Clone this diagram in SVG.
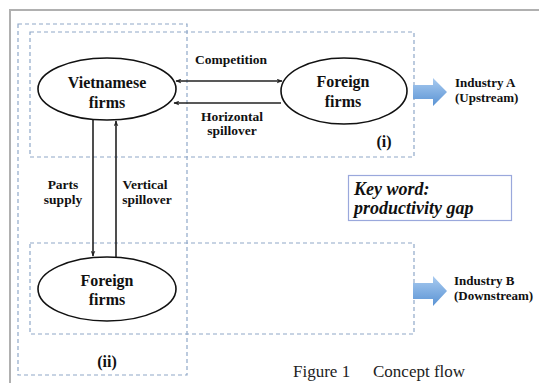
<svg xmlns="http://www.w3.org/2000/svg" width="539" height="383" viewBox="0 0 539 383">
<style>
.t{font-family:"Liberation Serif","Times New Roman",serif;font-weight:bold;fill:#111;}
.node{fill:#fff;stroke:#111;stroke-width:1.6;}
.box{fill:none;stroke:#8fa8c8;stroke-width:1.2;stroke-dasharray:4 3;}
.ln{fill:none;stroke:#222;stroke-width:1.6;}
.blue{fill:url(#bg);}
</style>
<defs>
<linearGradient id="bg" x1="0" y1="0" x2="0" y2="1">
<stop offset="0" stop-color="#a9cbf0"/>
<stop offset="1" stop-color="#5a93d4"/>
</linearGradient>
<marker id="ah" viewBox="0 0 10 8" refX="9" refY="4" markerWidth="6" markerHeight="5" orient="auto-start-reverse" markerUnits="userSpaceOnUse">
<path d="M0,0 L10,4 L0,8 L3,4 Z" fill="#222"/>
</marker>
</defs>
<rect x="0" y="0" width="539" height="383" fill="#fff"/>
<path d="M10,383 V10 H539" fill="none" stroke="#b0b0b0" stroke-width="2"/>
<g id="boxes">
<rect class="box" x="18" y="24" width="169" height="351"/>
<rect class="box" x="30" y="32" width="384" height="125"/>
<rect class="box" x="30" y="243" width="384" height="91"/>
</g>
<g id="connectors">
<line class="ln" x1="176" y1="81" x2="282" y2="81" marker-start="url(#ah)" marker-end="url(#ah)" stroke-width="1.3"/>
<line class="ln" x1="281" y1="103" x2="174" y2="103" marker-end="url(#ah)" stroke-width="2"/>
<line class="ln" x1="93" y1="120" x2="93" y2="256" marker-end="url(#ah)"/>
<line class="ln" x1="116" y1="257" x2="116" y2="121" marker-end="url(#ah)"/>
</g>
<g id="vietnamese">
<ellipse class="node" cx="107" cy="89" rx="69" ry="31"/>
<text class="t" x="107" y="88" font-size="16" text-anchor="middle">Vietnamese</text>
<text class="t" x="107" y="108" font-size="16" text-anchor="middle">firms</text>
</g>
<g id="foreignA">
<ellipse class="node" cx="344" cy="91" rx="63" ry="33"/>
<text class="t" x="343" y="87" font-size="16" text-anchor="middle">Foreign</text>
<text class="t" x="343" y="107" font-size="16" text-anchor="middle">firms</text>
</g>
<g id="foreignB">
<ellipse class="node" cx="107" cy="289" rx="69" ry="32"/>
<text class="t" x="107" y="286" font-size="16" text-anchor="middle">Foreign</text>
<text class="t" x="107" y="305" font-size="16" text-anchor="middle">firms</text>
</g>
<g id="labels">
<text class="t" x="231" y="64" font-size="13.5" text-anchor="middle">Competition</text>
<text class="t" x="232" y="121" font-size="13.5" text-anchor="middle">Horizontal</text>
<text class="t" x="232" y="135" font-size="13.5" text-anchor="middle">spillover</text>
<text class="t" x="63" y="189" font-size="13.5" text-anchor="middle">Parts</text>
<text class="t" x="63" y="204" font-size="13.5" text-anchor="middle">supply</text>
<text class="t" x="145" y="189" font-size="13.5" text-anchor="middle">Vertical</text>
<text class="t" x="147" y="204" font-size="13.5" text-anchor="middle">spillover</text>
<text class="t" x="384" y="147" font-size="16" text-anchor="middle">(i)</text>
<text class="t" x="107" y="367" font-size="16" text-anchor="middle">(ii)</text>
</g>
<g id="industryA">
<path class="blue" d="M413,85 H433 V78 L447,92 L433,106 V99 H413 Z"/>
<text class="t" x="455" y="87" font-size="13">Industry A</text>
<text class="t" x="455" y="102" font-size="13">(Upstream)</text>
</g>
<g id="industryB">
<path class="blue" d="M413,283 H433 V276 L447,291 L433,306 V299 H413 Z"/>
<text class="t" x="454" y="285" font-size="13">Industry B</text>
<text class="t" x="454" y="300" font-size="13">(Downstream)</text>
</g>
<g id="keyword">
<rect x="348.5" y="175.5" width="163" height="45" fill="#fff" stroke="#9aa8dc" stroke-width="1.2"/>
<text class="t" x="354" y="195" font-size="18" font-style="italic">Key word:</text>
<text class="t" x="354" y="214" font-size="18" font-style="italic">productivity gap</text>
</g>
<text x="293" y="377" font-family="Liberation Serif, Times New Roman, serif" font-size="17" fill="#222">Figure 1<tspan x="373">Concept flow</tspan></text>
</svg>
